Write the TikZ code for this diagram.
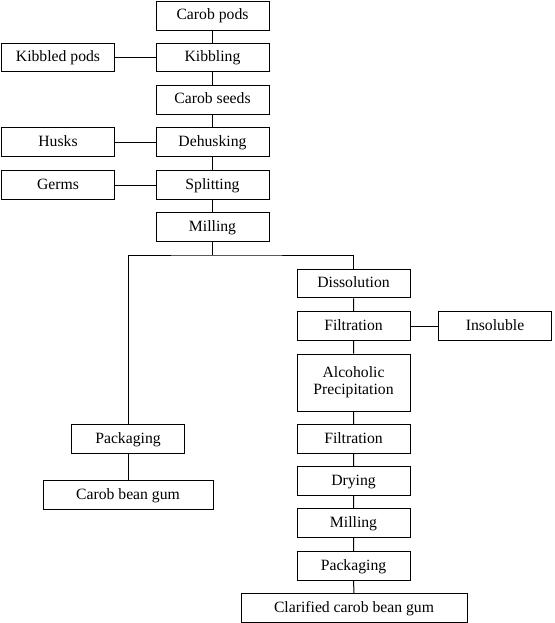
\documentclass[tikz,border=0pt]{standalone}
\usepackage{fontspec}
\setmainfont{Liberation Serif}
\begin{document}
\begin{tikzpicture}[x=1pt, y=-1pt,
		every node/.style={draw, rectangle, minimum width=113pt, minimum height=28.5pt, inner sep=2pt, text height=11pt, text depth=3pt, font=\fontsize{15.7}{17}\selectfont},
		every path/.style={line width=1pt}]
		\useasboundingbox (0,0) rectangle (554,623);
		% main line
		\node (pods) at (212.5, 16) {Carob pods};
		\node (kibbling) at (212.5, 57.5) {Kibbling};
		\node (kibbled) at (58, 57.5) {Kibbled pods};
		\node (seeds) at (212.5, 100) {Carob seeds};
		\node (dehusking) at (212.5, 142) {Dehusking};
		\node (husks) at (58, 142) {Husks};
		\node (splitting) at (212.5, 185) {Splitting};
		\node (germs) at (58, 185) {Germs};
		\node (milling) at (212.5, 227) {Milling};
		\coordinate (split) at (212.5, 255);
		% left branch
		\node (pack1) at (128, 439) {Packaging};
		\node[minimum width=170pt] (gum) at (128, 495) {Carob bean gum};
		% right branch
		\node (dissolution) at (353.5, 283.5) {Dissolution};
		\node (filtration) at (353.5, 326) {Filtration};
		\node (insoluble) at (495, 326) {Insoluble};
		\node[minimum height=57pt, text height=, text depth=, align=center] (precip) at (353.5, 382.5) {Alcoholic\\Precipitation};
		\node (filtration2) at (353.5, 439) {Filtration};
		\node (drying) at (353.5, 481) {Drying};
		\node (milling2) at (353.5, 523) {Milling};
		\node (pack2) at (353.5, 566) {Packaging};
		\node[minimum width=226pt] (clarified) at (354, 608) {Clarified carob bean gum};
		\draw (pods) -- (kibbling) -- (seeds) -- (dehusking) -- (splitting) -- (milling) -- (split);
		\draw (kibbled) -- (kibbling);
		\draw (husks) -- (dehusking);
		\draw (germs) -- (splitting);
		\draw (pack1) |- (split) -| (dissolution);
		\draw (pack1) -- (gum);
		\draw (dissolution) -- (filtration) -- (precip) -- (filtration2) -- (drying) -- (milling2) -- (pack2) -- (clarified);
		\draw (filtration) -- (insoluble);
	\end{tikzpicture}
\end{document}
